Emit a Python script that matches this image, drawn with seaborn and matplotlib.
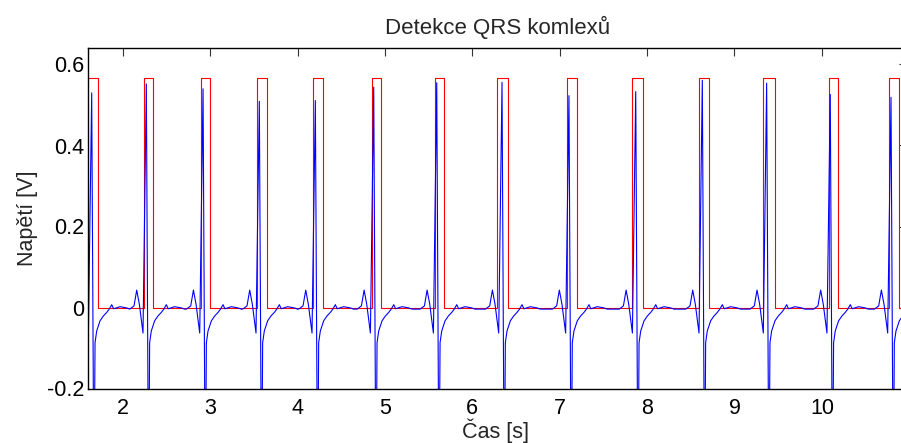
import numpy as np
import pandas as pd
import matplotlib
matplotlib.use("Agg")
import matplotlib.pyplot as plt
import seaborn as sns

# ---- data ----
# R-peak times (s) and amplitudes (V)
r_times = [1.645, 2.270, 2.919, 3.563, 4.204, 4.872, 5.593, 6.340,
           7.106, 7.870, 8.632, 9.368, 10.096, 10.791]
r_amps = [0.530, 0.552, 0.540, 0.509, 0.511, 0.544, 0.555, 0.556,
          0.523, 0.533, 0.561, 0.554, 0.526, 0.519]

post_dt = [0.026, 0.038, 0.057, 0.095, 0.133, 0.172, 0.200, 0.229, 0.250,
           0.267, 0.324, 0.400, 0.438]
post_v = [-0.500, -0.087, -0.058, -0.033, -0.021, -0.012, -0.004, 0.007,
          -0.003, -0.002, 0.002, -0.001, -0.004]
# points before the R peak (offset s, value V)
pre_dt = [-0.190, -0.141, -0.110, -0.080, -0.061, -0.038]
pre_v = [-0.004, 0.004, 0.043, 0.008, -0.025, -0.063]

# QRS detector output: pulse start / end times (s) and level (V)
pulse_on = [1.550, 2.247, 2.896, 3.533, 4.181, 4.856, 5.570, 6.286,
            7.087, 7.831, 8.594, 9.329, 10.085, 10.771]
pulse_off = [1.721, 2.350, 3.002, 3.648, 4.288, 4.955, 5.680, 6.412,
             7.194, 7.950, 8.712, 9.463, 10.188, 10.882]
pulse_level = 0.567

x_ticks = [2, 3, 4, 5, 6, 7, 8, 9, 10]
y_ticks = [-0.2, 0, 0.2, 0.4, 0.6]
y_tick_labels = ["-0.2", "0", "0.2", "0.4", "0.6"]

# ---- build series ----
ecg_t, ecg_v = [], []
for i, (rt, ra) in enumerate(zip(r_times, r_amps)):
    for d, v in zip(pre_dt, pre_v):
        if i == 0 or rt + d > ecg_t[-1]:
            ecg_t.append(rt + d)
            ecg_v.append(v)
    ecg_t.append(rt)
    ecg_v.append(ra)
    nxt = r_times[i + 1] + pre_dt[0] if i + 1 < len(r_times) else 99
    for d, v in zip(post_dt, post_v):
        if rt + d < nxt:
            ecg_t.append(rt + d)
            ecg_v.append(v)
ecg = pd.DataFrame({"t": ecg_t, "v": ecg_v})

red_t, red_v = [], []
for on, off in zip(pulse_on, pulse_off):
    red_t += [on, on, off, off]
    red_v += [0, pulse_level, pulse_level, 0]
red_t.append(11.2)
red_v.append(0)
qrs = pd.DataFrame({"t": red_t, "v": red_v})

# ---- plot ----
sns.set_style("white")
plt.rcParams["font.family"] = ["Liberation Sans", "DejaVu Sans"]
plt.rcParams["axes.unicode_minus"] = False

W, H = 901, 443
fig = plt.figure(figsize=(W / 100, H / 100), dpi=100)
L, R, T, B = 88.3, 907.0, 48.3, 388.5
ax = fig.add_axes([L / W, (H - B) / H, (R - L) / W, (B - T) / H])

sns.lineplot(data=qrs, x="t", y="v", sort=False, estimator=None,
             color="#ff0000", linewidth=0.8, ax=ax, legend=False)
sns.lineplot(data=ecg, x="t", y="v", sort=False, estimator=None,
             color="#0000ff", linewidth=0.8, ax=ax, legend=False)

ax.set_xlim(1.606, 10.974)
ax.set_ylim(-0.2, 0.64)
ax.set_xticks(x_ticks)
ax.set_xticklabels([str(v) for v in x_ticks])
ax.set_yticks(y_ticks)
ax.set_yticklabels(y_tick_labels)

for s in ax.spines.values():
    s.set_color("black")
    s.set_linewidth(1.0)
ax.tick_params(axis="both", direction="in", top=True, right=True,
               length=5.5, width=0.8, color="#333333", labelsize=15.5,
               labelcolor="black")
ax.tick_params(axis="x", pad=6.7)
ax.tick_params(axis="y", pad=3)

ax.set_title("Detekce QRS komlexů", fontsize=16, pad=10)
ax.set_xlabel("Čas [s]", fontsize=15.5)
ax.set_ylabel("Napětí [V]", fontsize=15.5)
ax.xaxis.set_label_coords((495.8 - L) / (R - L), (B - 418.6) / (B - T))
ax.yaxis.set_label_coords((37.6 - L) / (R - L), 0.5)

fig.savefig("out.png", dpi=100)
